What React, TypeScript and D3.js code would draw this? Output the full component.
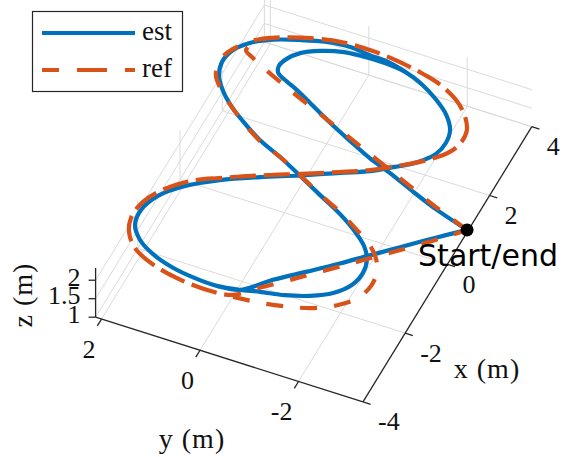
import React from 'react';
import * as d3 from 'd3';

const W = 564;
const H = 457;

// Axis limits and ticks (metres)
const xLim: [number, number] = [-4, 4];
const yLim: [number, number] = [-3.31, 2.12];
const zLim: [number, number] = [1, 2.33];
const xTicks = [-4, -2, 0, 2, 4];
const yTicks = [-2, 0, 2];
const zTicks = [1, 1.5, 2];
const zTickLabels = ['1', '1.5', '2'];

type P3 = [number, number, number];

// Estimated trajectory, split into flight phases (x, y, z)
const estTakeoff: P3[] = [
  [0.98, -3.29, 1.01], [1.09, -2.63, 1.17], [1.23, -2.09, 1.3], [1.39, -1.55, 1.43],
  [1.5, -1.09, 1.54], [1.66, -0.62, 1.66], [1.84, -0.14, 1.78], [2.06, 0.36, 1.9],
  [2.22, 0.74, 1.99], [2.3, 0.99, 2.05], [2.37, 1.14, 2.09], [2.54, 1.2, 2.1],
  [2.77, 1.15, 2.09], [3.06, 0.99, 2.05], [3.33, 0.7, 1.98], [3.55, 0.35, 1.9],
  [3.68, 0.0, 1.81], [3.78, -0.42, 1.71],
];
const estLoopA: P3[] = [
  [3.81, -0.82, 1.61], [3.71, -1.21, 1.52], [3.53, -1.57, 1.43], [3.31, -1.87, 1.35],
  [3.02, -2.07, 1.3], [2.68, -2.13, 1.29], [2.33, -2.08, 1.3], [1.95, -1.88, 1.35],
  [1.58, -1.57, 1.43], [1.21, -1.22, 1.51], [0.84, -0.77, 1.62], [0.33, -0.17, 1.77],
  [-0.15, 0.43, 1.92], [-0.66, 1.03, 2.06], [-1.18, 1.51, 2.18], [-1.7, 1.84, 2.26],
  [-2.2, 1.97, 2.29], [-2.6, 1.92, 2.28], [-2.88, 1.7, 2.23], [-3.05, 1.36, 2.14],
  [-3.13, 0.94, 2.04], [-3.12, 0.48, 1.93], [-3.04, 0.05, 1.82], [-2.88, -0.33, 1.73],
];
const estLoopB: P3[] = [
  [-2.7, -0.66, 1.65], [-2.5, -1.08, 1.55], [-2.23, -1.48, 1.45], [-1.91, -1.81, 1.37],
  [-1.52, -2.02, 1.31], [-1.13, -2.08, 1.3], [-0.78, -2.01, 1.32], [-0.52, -1.84, 1.36],
  [-0.31, -1.57, 1.43], [-0.08, -1.16, 1.53], [0.11, -0.7, 1.64], [0.33, -0.17, 1.77],
  [0.52, 0.31, 1.89], [0.68, 0.79, 2.0], [0.87, 1.17, 2.1], [1.1, 1.54, 2.19],
  [1.36, 1.83, 2.26], [1.64, 2.03, 2.31], [1.99, 2.12, 2.33], [2.35, 2.07, 2.32],
  [2.72, 1.87, 2.27], [3.05, 1.54, 2.19], [3.35, 1.12, 2.08], [3.6, 0.68, 1.98],
  [3.75, 0.27, 1.88], [3.79, -0.11, 1.78], [3.84, -0.46, 1.7],
];
const estLanding: P3[] = [
  [-2.29, -0.75, 1.63], [-1.73, -1.2, 1.52], [-1.18, -1.63, 1.41], [-0.67, -2.02, 1.32],
  [-0.15, -2.41, 1.22], [0.41, -2.84, 1.12], [0.98, -3.29, 1.01],
];

// Reference trajectory, same phases
const refTakeoff: P3[] = [
  [0.98, -3.29, 1.01], [1.14, -2.61, 1.17], [1.39, -1.75, 1.38], [1.66, -0.82, 1.61],
  [1.92, 0.1, 1.84], [2.12, 0.8, 2.01], [2.31, 1.38, 2.15], [2.43, 1.7, 2.23],
  [2.52, 1.86, 2.27], [2.86, 1.76, 2.24],
];
const refLoopA: P3[] = [
  [3.08, 1.57, 2.2], [3.4, 1.14, 2.09], [3.68, 0.65, 1.97], [3.82, 0.26, 1.88],
  [3.92, -0.16, 1.77], [3.97, -0.6, 1.66], [3.97, -1.05, 1.55], [3.91, -1.49, 1.45],
  [3.75, -1.88, 1.35], [3.49, -2.17, 1.28], [3.18, -2.34, 1.24], [2.85, -2.36, 1.23],
  [2.5, -2.27, 1.26], [2.1, -2.01, 1.32], [1.67, -1.63, 1.41], [1.24, -1.21, 1.51],
  [0.86, -0.76, 1.62], [0.37, -0.16, 1.77], [-0.11, 0.45, 1.92], [-0.55, 0.97, 2.05],
  [-1.01, 1.48, 2.17], [-1.53, 1.83, 2.26], [-2.04, 2.02, 2.31], [-2.49, 2.05, 2.31],
  [-2.85, 1.93, 2.28], [-3.12, 1.7, 2.23], [-3.26, 1.37, 2.15], [-3.32, 0.96, 2.05],
  [-3.3, 0.5, 1.93], [-3.21, 0.03, 1.82],
];
const refLoopB: P3[] = [
  [-3.07, -0.41, 1.71], [-2.92, -0.82, 1.61], [-2.72, -1.24, 1.51], [-2.47, -1.64, 1.41],
  [-2.12, -2.0, 1.32], [-1.74, -2.24, 1.26], [-1.33, -2.33, 1.24], [-0.93, -2.28, 1.25],
  [-0.62, -2.11, 1.29], [-0.38, -1.84, 1.36], [-0.23, -1.55, 1.43], [-0.03, -1.14, 1.53],
  [0.13, -0.69, 1.64], [0.34, -0.17, 1.77], [0.52, 0.31, 1.89], [0.64, 0.75, 2.0],
  [0.81, 1.09, 2.08], [1.0, 1.39, 2.15], [1.2, 1.68, 2.22], [1.39, 1.9, 2.28],
  [1.63, 2.09, 2.32], [1.96, 2.17, 2.34], [2.28, 2.12, 2.33], [2.62, 1.96, 2.29],
  [2.87, 1.79, 2.25],
];
const refLanding: P3[] = [
  [-3.08, -0.26, 1.75], [-2.61, -0.62, 1.66], [-2.1, -1.01, 1.56], [-1.5, -1.47, 1.45],
  [-0.9, -1.92, 1.34], [-0.3, -2.37, 1.23], [0.35, -2.85, 1.11], [0.98, -3.29, 1.01],
];

const startPoint: P3 = [0.98, -3.29, 1.01];

// Flight order: takeoff, upper half of the figure eight, lower half, upper half again, landing
const estPath: P3[] = [...estTakeoff, ...estLoopA, ...estLoopB, ...estLoopA, ...estLanding];
const refPath: P3[] = [...refTakeoff, ...refLoopA, ...refLoopB, ...refLoopA, ...refLanding];

const BLUE = '#0072BD';
const ORANGE = '#D95319';
const AXIS = '#262626';
const GRID = '#dadada';
const SERIF = '"Liberation Serif", "Times New Roman", serif';
const SANS = '"DejaVu Sans", sans-serif';

// Orthographic view: screen position of the (xmin, ymin, zmin) corner and
// the screen vectors spanned by each axis over its full range.
const corner: [number, number] = [363.0, 401.9];
const xEdge: [number, number] = [168.8, -275.2];
const yEdge: [number, number] = [-267.4, -84.7];
const zEdge: [number, number] = [0, -49.2];

const fx = d3.scaleLinear().domain(xLim).range([0, 1]);
const fy = d3.scaleLinear().domain(yLim).range([0, 1]);
const fz = d3.scaleLinear().domain(zLim).range([0, 1]);

function project(p: P3): [number, number] {
  const u = fx(p[0]);
  const v = fy(p[1]);
  const w = fz(p[2]);
  return [
    corner[0] + u * xEdge[0] + v * yEdge[0] + w * zEdge[0],
    corner[1] + u * xEdge[1] + v * yEdge[1] + w * zEdge[1],
  ];
}

const unit = (v: [number, number]): [number, number] => {
  const n = Math.hypot(v[0], v[1]);
  return [v[0] / n, v[1] / n];
};

const line3 = d3
  .line<P3>()
  .x((d) => project(d)[0])
  .y((d) => project(d)[1])
  .curve(d3.curveCatmullRom.alpha(0.5));

type Seg = [P3, P3];

function gridSegments(): Seg[] {
  const [x0, x1] = xLim;
  const [y0, y1] = yLim;
  const [z0, z1] = zLim;
  const segs: Seg[] = [];
  // floor
  xTicks.forEach((x) => { if (x !== x0) segs.push([[x, y0, z0], [x, y1, z0]]); });
  yTicks.forEach((y) => segs.push([[x0, y, z0], [x1, y, z0]]));
  // back wall at x = xmax
  yTicks.forEach((y) => segs.push([[x1, y, z0], [x1, y, z1]]));
  zTicks.forEach((z) => segs.push([[x1, y0, z], [x1, y1, z]]));
  // back wall at y = ymax
  xTicks.forEach((x) => { if (x !== x0) segs.push([[x, y1, z0], [x, y1, z1]]); });
  zTicks.forEach((z) => segs.push([[x0, y1, z], [x1, y1, z]]));
  return segs;
}

export default function App() {
  const [x0, x1] = xLim;
  const [y0, y1] = yLim;
  const [z0, z1] = zLim;
  const grid = gridSegments();
  const axes: Seg[] = [
    [[x0, y0, z0], [x1, y0, z0]],
    [[x0, y0, z0], [x0, y1, z0]],
    [[x0, y1, z0], [x0, y1, z1]],
  ];
  const tickLen = 8;
  const xTickDir = unit([-yEdge[0], -yEdge[1]]);
  const yTickDir = unit([-xEdge[0], -xEdge[1]]);
  const start = project(startPoint);

  const seg = (s: Seg, key: string, stroke: string, width: number) => {
    const a = project(s[0]);
    const b = project(s[1]);
    return <line key={key} x1={a[0]} y1={a[1]} x2={b[0]} y2={b[1]} stroke={stroke} strokeWidth={width} />;
  };

  return (
    <svg width={W} height={H} style={{ position: 'absolute', left: 0, top: 0, background: '#fff' }}>
      <rect x={0} y={0} width={W} height={H} fill="#fff" />
      <g>{grid.map((s, i) => seg(s, `g${i}`, GRID, 1))}</g>
      <g>{axes.map((s, i) => seg(s, `a${i}`, AXIS, 1.3))}</g>

      {/* x ticks and labels */}
      <g>
        {xTicks.map((t) => {
          const p = project([t, y0, z0]);
          return (
            <g key={`xt${t}`}>
              <line x1={p[0]} y1={p[1]} x2={p[0] + xTickDir[0] * tickLen} y2={p[1] + xTickDir[1] * tickLen} stroke={AXIS} strokeWidth={1.3} />
              <text x={p[0] + 15} y={p[1] + 20} fontFamily={SERIF} fontSize={26} dominantBaseline="central" fill="#111">
                {String(t)}
              </text>
            </g>
          );
        })}
      </g>

      {/* y ticks and labels */}
      <g>
        {yTicks.map((t) => {
          const p = project([x0, t, z0]);
          return (
            <g key={`yt${t}`}>
              <line x1={p[0]} y1={p[1]} x2={p[0] + yTickDir[0] * tickLen} y2={p[1] + yTickDir[1] * tickLen} stroke={AXIS} strokeWidth={1.3} />
              <text x={p[0] - 6} y={p[1] + 30} fontFamily={SERIF} fontSize={26} textAnchor="end" dominantBaseline="central" fill="#111">
                {String(t)}
              </text>
            </g>
          );
        })}
      </g>

      {/* z ticks and labels */}
      <g>
        {zTicks.map((t, i) => {
          const p = project([x0, y1, t]);
          return (
            <g key={`zt${t}`}>
              <line x1={p[0]} y1={p[1]} x2={p[0] - 7} y2={p[1]} stroke={AXIS} strokeWidth={1.3} />
              <text x={p[0] - 15} y={p[1] - 3} fontFamily={SERIF} fontSize={26} textAnchor="end" dominantBaseline="central" fill="#111">
                {zTickLabels[i]}
              </text>
            </g>
          );
        })}
      </g>

      {/* axis titles */}
      <text x={487} y={368} fontFamily={SERIF} fontSize={28} textAnchor="middle" dominantBaseline="central" letterSpacing={1} fill="#111">x (m)</text>
      <text x={192} y={438} fontFamily={SERIF} fontSize={28} textAnchor="middle" dominantBaseline="central" letterSpacing={1} fill="#111">y (m)</text>
      <text transform="translate(22,295) rotate(-90)" fontFamily={SERIF} fontSize={28} textAnchor="middle" dominantBaseline="central" letterSpacing={1} fill="#111">z (m)</text>

      {/* trajectories */}
      <path d={line3(estPath) ?? ''} fill="none" stroke={BLUE} strokeWidth={4.2} strokeLinejoin="round" />
      <path d={line3(refPath) ?? ''} fill="none" stroke={ORANGE} strokeWidth={4.2} strokeDasharray="17 17" />

      {/* start / end marker */}
      <circle cx={start[0]} cy={start[1]} r={6.5} fill="#000" />
      <text x={start[0] - 49} y={start[1] + 36} fontFamily={SANS} fontSize={30} fill="#000">Start/end</text>

      {/* legend */}
      <g>
        <rect x={32.5} y={11.5} width={150} height={80} fill="#fff" stroke={AXIS} strokeWidth={1.2} />
        <line x1={42} y1={33} x2={135} y2={33} stroke={BLUE} strokeWidth={4.2} />
        <line x1={42} y1={70} x2={135} y2={70} stroke={ORANGE} strokeWidth={4.2} strokeDasharray="30 18" strokeDashoffset={13} />
        <text x={142} y={40} fontFamily={SERIF} fontSize={27} fill="#111">est</text>
        <text x={142} y={77} fontFamily={SERIF} fontSize={27} fill="#111">ref</text>
      </g>
    </svg>
  );
}
